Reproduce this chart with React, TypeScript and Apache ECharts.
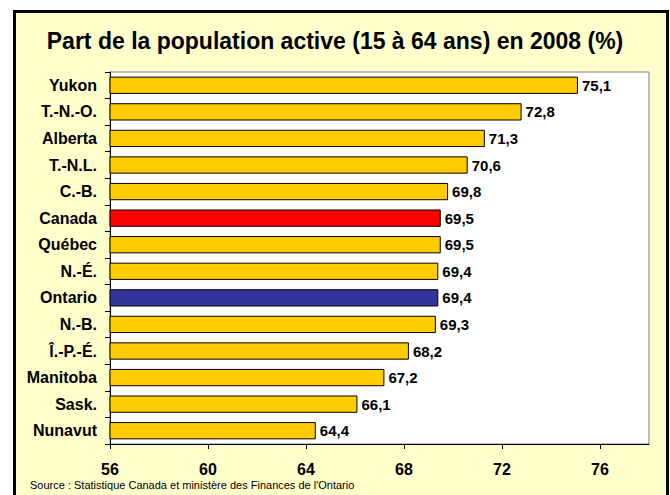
import React, { useEffect, useRef } from "react";
import * as echarts from "echarts";

const categories = [
  "Yukon",
  "T.-N.-O.",
  "Alberta",
  "T.-N.L.",
  "C.-B.",
  "Canada",
  "Québec",
  "N.-É.",
  "Ontario",
  "N.-B.",
  "Î.-P.-É.",
  "Manitoba",
  "Sask.",
  "Nunavut",
];
const values = [75.1, 72.8, 71.3, 70.6, 69.8, 69.5, 69.5, 69.4, 69.4, 69.3, 68.2, 67.2, 66.1, 64.4];
const tickValues = [56, 60, 64, 68, 72, 76];
const highlight: Record<string, string> = { Canada: "#FF0000", Ontario: "#333399" };
const baseColor = "#FFCC00";
const title = "Part de la population active (15 à 64 ans) en 2008 (%)";
const source = "Source : Statistique Canada et ministère des Finances de l'Ontario";

const FONT = "'Liberation Sans', Arial, sans-serif";

export default function App() {
  const ref = useRef<HTMLDivElement>(null);
  useEffect(() => {
    if (!ref.current) return;
    const chart = echarts.init(ref.current, undefined, { renderer: "svg" });
    chart.setOption({
      animation: false,
      backgroundColor: "transparent",
      graphic: [
        {
          type: "text",
          x: 335,
          y: 41,
          style: {
            text: title,
            font: "bold 23px " + FONT,
            fill: "#000",
            textAlign: "center",
            textVerticalAlign: "middle",
          },
        },
        {
          type: "text",
          left: 30,
          top: 479,
          style: {
            text: source,
            font: "11px " + FONT,
            fill: "#000",
          },
        },
      ],
      grid: {
        left: 110,
        top: 72,
        right: 21,
        bottom: 51,
        show: true,
        backgroundColor: "#FFFFFF",
        borderColor: "#808080",
        borderWidth: 1,
      },
      xAxis: {
        type: "value",
        min: 56,
        max: 78,
        interval: 4,
        splitLine: { show: false },
        axisLine: { show: true, lineStyle: { color: "#000", width: 1 } },
        axisTick: {
          show: true,
          length: 5,
          lineStyle: { color: "#000" },
          customValues: tickValues,
        },
        axisLabel: {
          customValues: tickValues,
          margin: 17,
          fontFamily: FONT,
          fontWeight: "bold",
          fontSize: 16,
          color: "#000",
        },
      },
      yAxis: {
        type: "category",
        data: categories,
        inverse: true,
        axisLine: { show: true, lineStyle: { color: "#000", width: 1 } },
        axisTick: { show: true, length: 5, lineStyle: { color: "#000" } },
        axisLabel: {
          margin: 13,
          fontFamily: FONT,
          fontWeight: "bold",
          fontSize: 16,
          color: "#000",
        },
      },
      series: [
        {
          type: "bar",
          barWidth: "65%",
          data: categories.map((c, i) => ({
            value: values[i],
            itemStyle: { color: highlight[c] || baseColor },
          })),
          itemStyle: { borderColor: "#000", borderWidth: 1 },
          label: {
            show: true,
            position: "right",
            distance: 4,
            formatter: (p: any) => Number(p.value).toFixed(1).replace(".", ","),
            fontFamily: FONT,
            fontWeight: "bold",
            fontSize: 15,
            color: "#000",
          },
        },
      ],
    });
    return () => chart.dispose();
  }, []);

  return (
    <div
      style={{
        position: "fixed",
        left: 0,
        top: 0,
        width: 670,
        height: 495,
        background: "#FFFFFF",
        overflow: "hidden",
      }}
    >
      <div
        style={{
          position: "absolute",
          left: 13,
          top: 10,
          width: 656,
          height: 520,
          boxSizing: "border-box",
          border: "3px solid #000",
          background: "#FFFFCC",
        }}
      />
      <div ref={ref} style={{ position: "absolute", left: 0, top: 0, width: 670, height: 495 }} />
    </div>
  );
}
